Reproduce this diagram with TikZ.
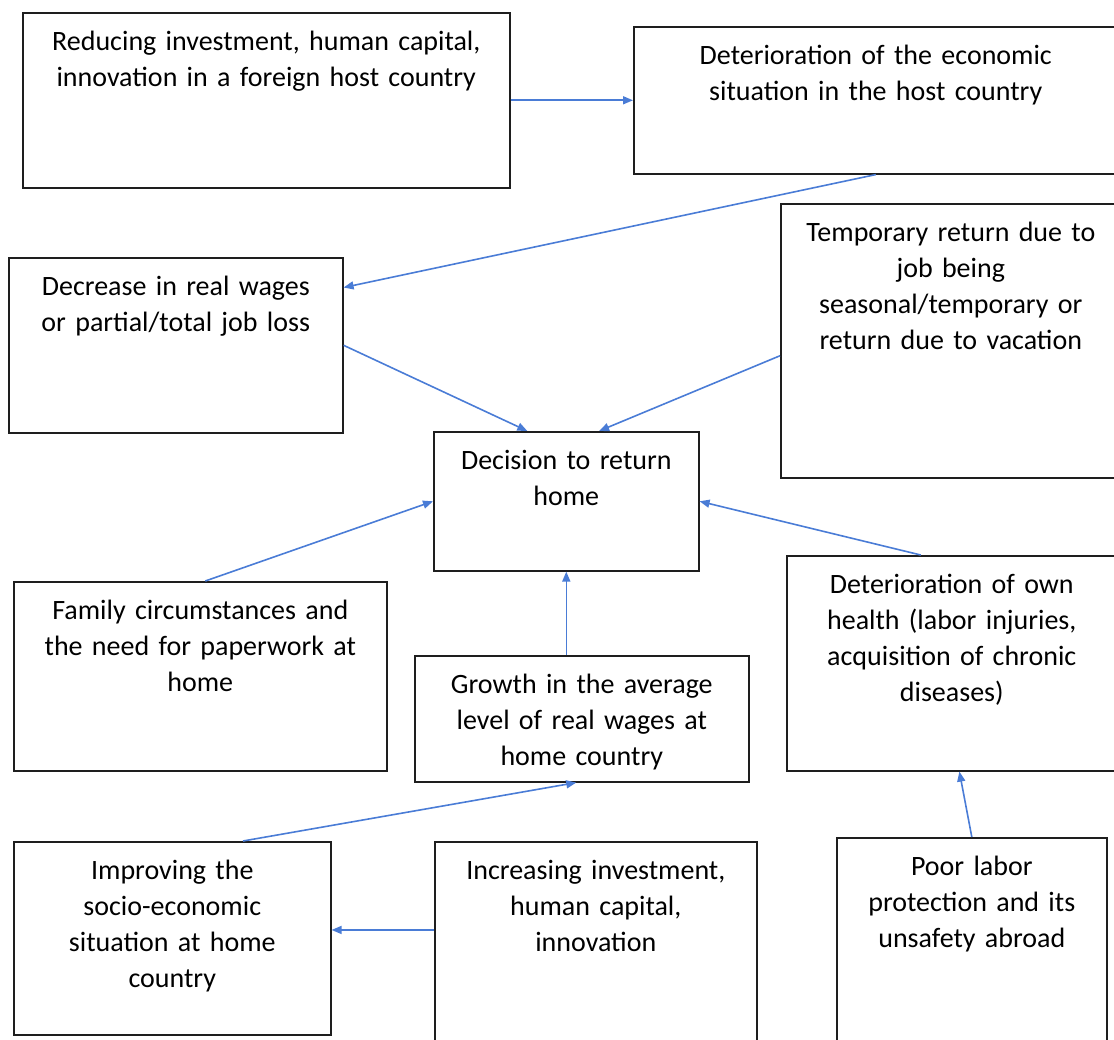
\documentclass[tikz,border=0pt]{standalone}
\usepackage{fontspec}
\setmainfont{Carlito}
\usepackage{tikz}
\usepackage{xcolor}
\usetikzlibrary{arrows.meta,positioning}
\definecolor{linkblue}{RGB}{74,124,214}
\definecolor{boxline}{RGB}{30,30,30}

\begin{document}
\begin{tikzpicture}[
    x=1pt, y=-1pt,
    every node/.style={font=\fontsize{28}{36}\selectfont},
    box/.style 2 args={rectangle, draw=boxline, line width=1.6pt, anchor=north west,
        inner xsep=4pt, inner ysep=0pt, minimum width=#1, text width=#1-8pt,
        align=center, text height=38pt, text depth=#2-38pt},
    arrow/.style={-{Triangle[length=10pt, width=8pt]}, draw=linkblue, line width=1.6pt},
]

\clip (0, 0) rectangle (1114, 1040);

% --- HOST COUNTRY ---
\node[box={487pt}{175pt}] (reducing) at (22, 12) {Reducing investment, human capital,\\ innovation in a foreign host country};
\node[box={484pt}{147pt}] (hostecon) at (633, 26) {Deterioration of the economic\\ situation in the host country};
\node[box={334pt}{175pt}] (wageloss) at (8, 257) {Decrease in real wages\\ or partial/total job loss};
\node[box={340pt}{274pt}] (temporary) at (780, 203) {Temporary return due to\\ job being\\ seasonal/temporary or\\ return due to vacation};

% --- DECISION ---
\node[box={265pt}{139pt}] (decision) at (433, 431) {Decision to return\\ home};

% --- OTHER CAUSES ---
\node[box={373pt}{189pt}] (family) at (13, 581) {Family circumstances and\\ the need for paperwork at\\ home};
\node[box={334pt}{126pt}] (growth) at (414, 655) {Growth in the average\\ level of real wages at\\ home country};
\node[box={330pt}{215pt}] (health) at (786, 555) {Deterioration of own\\ health (labor injuries,\\ acquisition of chronic\\ diseases)};

% --- HOME COUNTRY ---
\node[box={317pt}{193pt}] (improving) at (13, 841) {Improving the\\ socio-economic\\ situation at home\\ country};
\node[box={322pt}{220pt}] (increasing) at (434, 841) {Increasing investment,\\ human capital,\\ innovation};
\node[box={270pt}{220pt}] (poorlabor) at (836, 837) {Poor labor\\ protection and its\\ unsafety abroad};

% Arrows
\draw[arrow] (reducing.east) -- (hostecon.west);
\draw[arrow] (hostecon.south) -- (wageloss.19.6);
\draw[arrow] (wageloss.east) -- (decision.119.6);
\draw[arrow] (temporary.185) -- (decision.65);
\draw[arrow] (family.87) -- (decision.west);
\draw[arrow] (health.106) -- (decision.east);
\draw[arrow] (decision.south |- growth.north) -- (decision.south);
\draw[arrow] (improving.54) -- (growth.265);
\draw[arrow] (increasing.west |- improving.3) -- (improving.3);
\draw[arrow] (poorlabor.north) -- (health.274);

\end{tikzpicture}
\end{document}
